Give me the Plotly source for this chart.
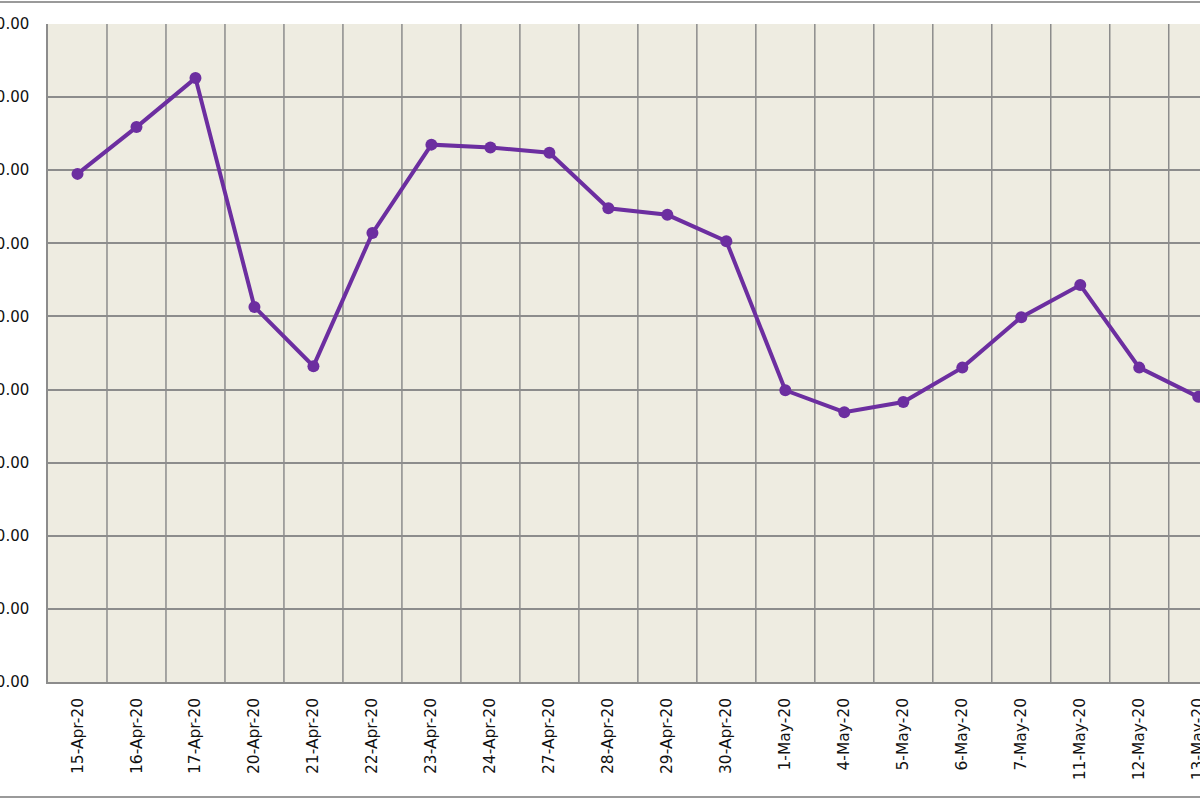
import plotly.graph_objects as go

# daily closing values, 15-Apr-20 .. 13-May-20 (trading days only)
dates = ["15-Apr-20", "16-Apr-20", "17-Apr-20", "20-Apr-20", "21-Apr-20",
         "22-Apr-20", "23-Apr-20", "24-Apr-20", "27-Apr-20", "28-Apr-20",
         "29-Apr-20", "30-Apr-20", "1-May-20", "4-May-20", "5-May-20",
         "6-May-20", "7-May-20", "11-May-20", "12-May-20", "13-May-20"]
values = [269.5, 275.9, 282.6, 251.3, 243.2,
          261.4, 273.5, 273.1, 272.4, 264.8,
          263.9, 260.3, 239.9, 236.9, 238.3,
          243.0, 249.9, 254.3, 243.0, 239.0]
y_ticks = [200, 210, 220, 230, 240, 250, 260, 270, 280, 290]

grid_col = "#8c8c8c"
fig = go.Figure()
fig.add_trace(go.Scatter(x=list(range(len(dates))), y=values, mode="lines+markers",
                         line=dict(color="#6c2ea0", width=4),
                         marker=dict(color="#6c2ea0", size=12, symbol="circle"),
                         cliponaxis=False, showlegend=False))

# vertical grid lines sit between categories, like Excel
xgrid = [i - 0.5 for i in range(len(dates) + 1)]

fig.update_layout(
    width=1200, height=800,
    margin=dict(l=48, r=0, t=24, b=118),
    paper_bgcolor="white", plot_bgcolor="#eeece1",
    font=dict(family="DejaVu Sans", color="#111111"),
    xaxis=dict(range=[-0.5, 19.03], tickmode="array",
               tickvals=list(range(len(dates))), ticktext=dates,
               tickangle=-90, tickfont=dict(size=15.5),
               ticklabeloverflow="allow",
               showgrid=False, zeroline=False, automargin=False,
               showline=True, linecolor=grid_col, linewidth=1.5,
               ticks="", ticklabelstandoff=8),
    yaxis=dict(range=[200, 290], tickmode="array", tickvals=y_ticks,
               ticktext=[f"{v:.2f}" for v in y_ticks], tickfont=dict(size=15),
               ticklabeloverflow="allow",
               showgrid=True, gridcolor=grid_col, gridwidth=1.5,
               zeroline=False, automargin=False,
               showline=True, linecolor=grid_col, linewidth=1.5,
               ticks="", ticklabelstandoff=14),
)

for gx in xgrid[1:]:
    fig.add_shape(type="line", xref="x", yref="paper", x0=gx, x1=gx, y0=0, y1=1,
                  line=dict(color=grid_col, width=1.5), layer="below")

# chart frame lines (top and bottom of the cropped chart area)
fig.add_shape(type="line", xref="paper", yref="paper", x0=-0.05, x1=1.05,
              y0=1 + 22 / 658, y1=1 + 22 / 658, line=dict(color="#9a9a9a", width=2))
fig.add_shape(type="line", xref="paper", yref="paper", x0=-0.05, x1=1.05,
              y0=-115 / 658, y1=-115 / 658, line=dict(color="#9a9a9a", width=2))

fig.write_html("out.html", config={"displayModeBar": False},
               post_script="document.body.style.margin='0';")
